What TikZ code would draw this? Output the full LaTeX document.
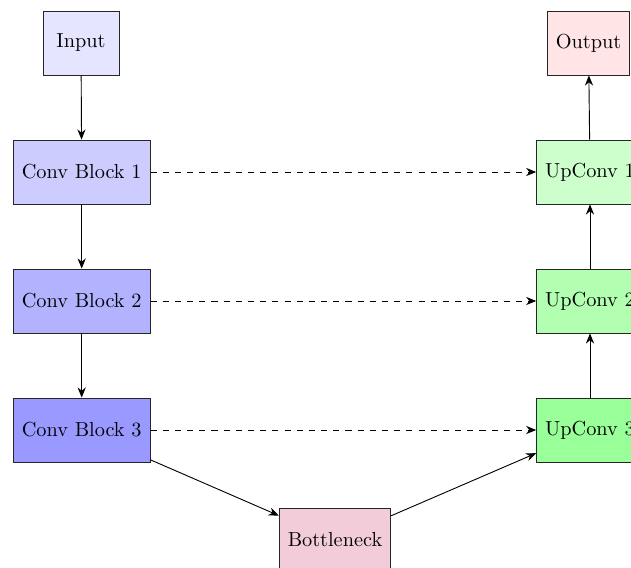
\documentclass[tikz,border=0pt]{standalone}
\usetikzlibrary{arrows.meta}
\tikzset{
  blk/.style={draw=black!85, line width=0.4pt, inner sep=4.2pt, minimum height=31.5pt, font=\normalsize},
  arr/.style={-{Stealth[length=5pt,width=4pt,inset=1.6pt]}, line width=0.45pt},
  skip/.style={-{Stealth[length=5pt,width=4pt,inset=1.6pt]}, dashed, line width=0.45pt}
}
\begin{document}
\begin{tikzpicture}[x=0.4926pt,y=-0.4926pt]
\useasboundingbox (0,0) rectangle (631,568);
\clip (0,0) rectangle (631,568);
\node[blk, fill=blue!10, minimum width=37.4pt] (in) at (81,43) {Input};
\node[blk, fill=blue!20] (c1) at (81.7,172) {Conv Block 1};
\node[blk, fill=blue!30] (c2) at (81.7,301) {Conv Block 2};
\node[blk, fill=blue!40] (c3) at (81.7,430) {Conv Block 3};
\node[blk, fill=purple!20] (bn) at (335,540) {Bottleneck};
\node[blk, fill=green!20] (u1) at (590,172) {UpConv 1};
\node[blk, fill=green!30] (u2) at (590,301) {UpConv 2};
\node[blk, fill=green!40] (u3) at (590,430) {UpConv 3};
\node[blk, fill=red!10] (out) at (588.5,43) {Output};
\draw[arr] (in) -- (c1);
\draw[arr] (c1) -- (c2);
\draw[arr] (c2) -- (c3);
\draw[arr] (c3) -- (bn);
\draw[arr] (bn) -- (u3);
\draw[arr] (u3) -- (u2);
\draw[arr] (u2) -- (u1);
\draw[arr] (u1) -- (out);
\draw[skip] (c1) -- (u1);
\draw[skip] (c2) -- (u2);
\draw[skip] (c3) -- (u3);
\end{tikzpicture}
\end{document}
